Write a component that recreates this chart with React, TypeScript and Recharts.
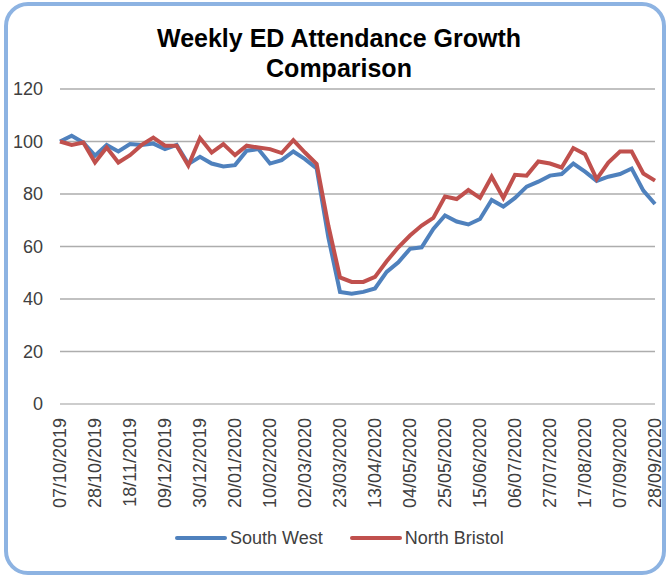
import { LineChart, Line, XAxis, YAxis, CartesianGrid } from 'recharts';

// weekly ED attendance indexed to w/c 07/10/2019 = 100
const weeks = [
  '07/10/2019', '14/10/2019', '21/10/2019', '28/10/2019', '04/11/2019', '11/11/2019',
  '18/11/2019', '25/11/2019', '02/12/2019', '09/12/2019', '16/12/2019', '23/12/2019',
  '30/12/2019', '06/01/2020', '13/01/2020', '20/01/2020', '27/01/2020', '03/02/2020',
  '10/02/2020', '17/02/2020', '24/02/2020', '02/03/2020', '09/03/2020', '16/03/2020',
  '23/03/2020', '30/03/2020', '06/04/2020', '13/04/2020', '20/04/2020', '27/04/2020',
  '04/05/2020', '11/05/2020', '18/05/2020', '25/05/2020', '01/06/2020', '08/06/2020',
  '15/06/2020', '22/06/2020', '29/06/2020', '06/07/2020', '13/07/2020', '20/07/2020',
  '27/07/2020', '03/08/2020', '10/08/2020', '17/08/2020', '24/08/2020', '31/08/2020',
  '07/09/2020', '14/09/2020', '21/09/2020', '28/09/2020',
];

const southWest = [
  100, 102.2, 99.6, 94.6, 98.7, 96.2, 99, 98.7, 99.2, 97.1,
  98.7, 91.4, 94.2, 91.6, 90.5, 91, 96.5, 97.1, 91.6, 92.9,
  96.2, 93.3, 89.7, 63.5, 42.7, 42, 42.7, 44, 50.3, 54,
  59.1, 59.7, 66.7, 71.8, 69.5, 68.4, 70.5, 77.7, 75.2, 78.5,
  82.8, 84.7, 87, 87.6, 91.6, 88.5, 85, 86.6, 87.6, 89.7,
  81.3, 76.2,
];

const northBristol = [
  100, 98.7, 99.6, 92, 97.7, 92, 94.8, 98.7, 101.5, 98.4,
  98.4, 90.8, 101.3, 95.8, 99, 94.8, 98.4, 97.7, 97.1, 95.6,
  100.5, 95.8, 91.4, 68, 48.2, 46.5, 46.5, 48.4, 54.4, 59.7,
  64.2, 68, 70.9, 79, 78.1, 81.5, 78.5, 86.6, 78.5, 87.3,
  87, 92.4, 91.6, 90.1, 97.5, 95.2, 85.7, 92, 96.2, 96.2,
  87.8, 85.1,
];

const yTicks = [0, 20, 40, 60, 80, 100, 120];

const series = [
  { key: 'southWest', name: 'South West', color: '#4F81BD' },
  { key: 'northBristol', name: 'North Bristol', color: '#C0504D' },
];

const rows = weeks.map((week, i) => ({
  week,
  southWest: southWest[i],
  northBristol: northBristol[i],
}));

const FONT = '"Liberation Sans", Arial, sans-serif';

// rotated date label hanging below the axis
function WeekTick(props: any) {
  const { x, y, payload } = props;
  return (
    <text
      x={x}
      y={y}
      dy="0.36em"
      textAnchor="end"
      transform={`rotate(-90, ${x}, ${y})`}
      fill="#404040"
      fontSize={18}
      fontFamily={FONT}
    >
      {payload.value}
    </text>
  );
}

export default function App() {
  return (
    <div
      style={{
        position: 'absolute',
        left: 0,
        top: 0,
        width: 666,
        height: 577,
        background: '#fff',
        overflow: 'hidden',
        fontFamily: FONT,
      }}
    >
      {/* rounded chart frame */}
      <div
        style={{
          position: 'absolute',
          left: 4,
          top: 2,
          width: 662,
          height: 573,
          boxSizing: 'border-box',
          border: '4px solid #8DB3E2',
          borderRadius: 24,
        }}
      />

      <div
        style={{
          position: 'absolute',
          left: 139,
          top: 23,
          width: 400,
          textAlign: 'center',
          fontSize: 25,
          fontWeight: 'bold',
          lineHeight: '30px',
          color: '#000',
        }}
      >
        Weekly ED Attendance Growth
        <br />
        Comparison
      </div>

      <div style={{ position: 'absolute', left: 0, top: 0 }}>
        <LineChart
          width={666}
          height={577}
          data={rows}
          margin={{ top: 89, right: 11, left: 0, bottom: 0 }}
        >
          <CartesianGrid vertical={false} stroke="#ADADAD" strokeWidth={1.5} />
          <XAxis
            dataKey="week"
            interval={2}
            height={173}
            tickLine={false}
            axisLine={{ stroke: '#D0D0D0', strokeWidth: 1.5 }}
            tick={<WeekTick />}
            tickSize={0}
            tickMargin={14}
          />
          <YAxis
            domain={[0, 120]}
            ticks={yTicks}
            width={60}
            axisLine={false}
            tickLine={false}
            tickMargin={11}
            tick={{ fill: '#404040', fontSize: 18, fontFamily: FONT }}
          />
          {series.map((s) => (
            <Line
              key={s.key}
              dataKey={s.key}
              name={s.name}
              stroke={s.color}
              strokeWidth={4}
              dot={false}
              type="linear"
              isAnimationActive={false}
            />
          ))}
        </LineChart>
      </div>

      {/* legend */}
      <div
        style={{
          position: 'absolute',
          left: 175,
          top: 526,
          display: 'flex',
          alignItems: 'center',
          fontSize: 18,
          color: '#404040',
          lineHeight: '24px',
        }}
      >
        {series.map((s, i) => (
          <div
            key={s.key}
            style={{ display: 'flex', alignItems: 'center', marginLeft: i === 0 ? 0 : 27 }}
          >
            <div style={{ width: 52, height: 4, borderRadius: 2, background: s.color, marginRight: 3 }} />
            <span>{s.name}</span>
          </div>
        ))}
      </div>
    </div>
  );
}
